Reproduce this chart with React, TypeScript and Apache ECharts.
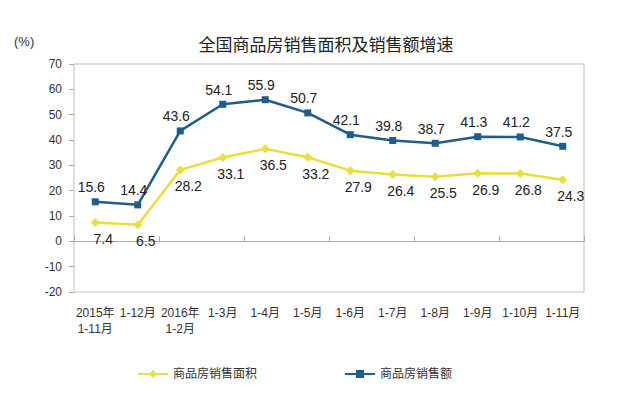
import React, { useEffect, useRef } from "react";
import * as echarts from "echarts";

const categories = [
  "2015年\n1-11月",
  "1-12月",
  "2016年\n1-2月",
  "1-3月",
  "1-4月",
  "1-5月",
  "1-6月",
  "1-7月",
  "1-8月",
  "1-9月",
  "1-10月",
  "1-11月",
];
const areaGrowth = [7.4, 6.5, 28.2, 33.1, 36.5, 33.2, 27.9, 26.4, 25.5, 26.9, 26.8, 24.3];
const salesGrowth = [15.6, 14.4, 43.6, 54.1, 55.9, 50.7, 42.1, 39.8, 38.7, 41.3, 41.2, 37.5];
const seriesNames = ["商品房销售面积", "商品房销售额"];
const titleText = "全国商品房销售面积及销售额增速";
const unitText = "(%)";

const FONT = "'Liberation Sans', 'Noto Sans CJK SC', sans-serif";

export default function App() {
  const ref = useRef<HTMLDivElement>(null);
  useEffect(() => {
    if (!ref.current) return;
    const chart = echarts.init(ref.current, null, { renderer: "svg" });
    chart.setOption({
      animation: false,
      backgroundColor: "#ffffff",
      textStyle: { fontFamily: FONT },
      title: {
        text: titleText,
        left: 321,
        textAlign: "center",
        top: 32,
        textStyle: { fontSize: 17, fontWeight: "normal", color: "#222", fontFamily: FONT },
      },
      graphic: [
        {
          type: "text",
          left: 14,
          top: 35,
          style: { text: unitText, fontSize: 13, fill: "#333", font: `13px ${FONT}` },
        },
      ],
      legend: {
        left: 132,
        top: 363,
        itemWidth: 30,
        itemHeight: 10,
        itemGap: 87,
        textStyle: { fontSize: 12, color: "#333", fontFamily: FONT },
        data: seriesNames,
      },
      grid: {
        left: 74,
        right: 40,
        top: 64,
        bottom: 101,
        show: true,
        borderColor: "#bdbdbd",
        borderWidth: 1,
      },
      xAxis: [
        {
          type: "category",
          data: categories,
          position: "bottom",
          boundaryGap: true,
          axisLine: { show: false, onZero: false },
          axisTick: { show: false },
          axisLabel: {
            margin: 13,
            fontSize: 12,
            color: "#333",
            lineHeight: 16,
            interval: 0,
            fontFamily: FONT,
          },
        },
        {
          type: "category",
          data: categories,
          position: "bottom",
          boundaryGap: true,
          axisLine: { show: true, onZero: true, lineStyle: { color: "#aaaaaa", width: 1 } },
          axisTick: { show: true, inside: true, length: 5, lineStyle: { color: "#aaaaaa" } },
          axisLabel: { show: false },
        },
      ],
      yAxis: {
        type: "value",
        min: -20,
        max: 70,
        interval: 10,
        splitLine: { show: false },
        axisLine: { show: false },
        axisTick: { show: true, length: 5, lineStyle: { color: "#aaaaaa" } },
        axisLabel: { margin: 12, fontSize: 12, color: "#333", fontFamily: FONT },
      },
      series: [
        {
          name: seriesNames[0],
          type: "line",
          xAxisIndex: 0,
          data: areaGrowth,
          symbol: "diamond",
          symbolSize: 9,
          color: "#E8DE3C",
          lineStyle: { width: 2.5, color: "#E8DE3C" },
          itemStyle: { color: "#E8DE3C" },
          label: {
            show: true,
            position: "bottom",
            distance: 5,
            offset: [8, 0],
            fontSize: 14,
            color: "#222",
            fontFamily: FONT,
          },
        },
        {
          name: seriesNames[1],
          type: "line",
          xAxisIndex: 0,
          data: salesGrowth,
          symbol: "rect",
          symbolSize: 7,
          color: "#1F5D8C",
          lineStyle: { width: 2.5, color: "#1F5D8C" },
          itemStyle: { color: "#1F5D8C" },
          label: {
            show: true,
            position: "top",
            distance: 4,
            offset: [-4, 0],
            fontSize: 14,
            color: "#222",
            fontFamily: FONT,
          },
        },
      ],
    });
    return () => chart.dispose();
  }, []);
  return <div ref={ref} style={{ width: 624, height: 393, position: "absolute", left: 0, top: 0 }} />;
}
